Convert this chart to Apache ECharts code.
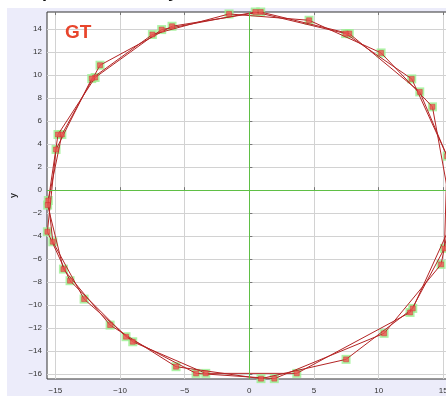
<!DOCTYPE html>
<html>
<head>
<meta charset="utf-8">
<script src="https://cdn.jsdelivr.net/npm/echarts@6/dist/echarts.min.js"></script>
<style>
  html, body { margin: 0; padding: 0; background: #fff; }
  #chart { width: 446px; height: 398px; }
</style>
</head>
<body>
<div id="chart"></div>
<script>
// Three passes around the ring, each a list of [x, y] samples in travel order
const loop1 = [
  [15.8, 1.6], [13.18, 8.55], [7.73, 13.62], [0.88, 15.5], [-5.98, 14.26],
  [-11.55, 10.87], [-14.5, 4.84], [-15.55, -0.9], [-15.2, -4.49], [-12.78, -9.48],
  [-9.02, -13.19], [-3.37, -15.94], [3.67, -15.94], [12.43, -10.64], [15.09, -5.07]
];
const loop2 = [
  [15.3, 2.95], [12.56, 9.68], [7.45, 13.62], [0.46, 15.5], [-6.78, 13.97],
  [-11.93, 9.8], [-14.8, 4.84], [-15.6, -1.3], [-14.38, -6.87], [-10.77, -11.74],
  [-5.67, -15.36], [0.9, -16.4], [7.48, -14.72], [12.64, -10.29], [15.75, -2.6]
];
const loop3 = [
  [14.16, 7.25], [10.19, 11.94], [4.62, 14.78], [-1.57, 15.33], [-7.5, 13.54],
  [-12.19, 9.71], [-14.95, 3.54], [-15.62, -3.62], [-13.87, -7.88], [-9.54, -12.75],
  [-4.12, -15.94], [1.93, -16.4], [10.42, -12.46], [14.83, -6.46], [15.9, -0.4]
];

const xTicks = [-15, -10, -5, 0, 5, 10, 15];
const yTicks = [-16, -14, -12, -10, -8, -6, -4, -2, 0, 2, 4, 6, 8, 10, 12, 14];

const chartTitle = 'predicted x vs y';
const panelLabel = 'GT';

const path = loop1.concat(loop2, loop3);
const withMinus = v => String(v).replace('-', '\u2212');

const labelFont = { color: '#333', fontSize: 8, fontFamily: 'Liberation Sans' };

const chart = echarts.init(document.getElementById('chart'), null, { renderer: 'canvas' });

chart.setOption({
  animation: false,
  backgroundColor: '#ececfa',
  graphic: [
    { type: 'rect', silent: true, shape: { x: 0, y: 0, width: 446, height: 8 }, style: { fill: '#fff' } },
    { type: 'rect', silent: true, shape: { x: 0, y: 0, width: 7, height: 398 }, style: { fill: '#fff' } },
    { type: 'rect', silent: true, shape: { x: 0, y: 396, width: 446, height: 2 }, style: { fill: '#fff' } },
    {
      type: 'text', silent: true, x: 42, y: 1.5,
      style: { text: chartTitle, font: 'bold 18px "Liberation Sans"', fill: '#111', verticalAlign: 'bottom' }
    },
    {
      type: 'text', silent: true, x: 65, y: 33, z: 100,
      style: { text: panelLabel, font: 'bold 19px "Liberation Sans"', fill: '#e8452c', verticalAlign: 'middle' }
    }
  ],
  grid: {
    left: 47, top: 12, width: 414, height: 367,
    outerBoundsMode: 'none', containLabel: false,
    show: true, backgroundColor: '#fff', borderColor: '#333', borderWidth: 1
  },
  xAxis: [{
    type: 'value', min: -15.65, max: 16.37,
    name: 'x', nameLocation: 'middle', nameGap: 22,
    nameTextStyle: { fontWeight: 'bold', fontSize: 9, color: '#222', fontFamily: 'Liberation Sans' },
    axisLine: { show: false },
    axisTick: { show: true, inside: true, length: 3, lineStyle: { color: '#777' }, customValues: xTicks },
    axisLabel: Object.assign({ customValues: xTicks, formatter: withMinus, margin: 8 }, labelFont),
    splitLine: { show: true, lineStyle: { color: '#d2d2d2', width: 1 } }
  }, {
    type: 'value', position: 'top', min: -15.65, max: 16.37,
    axisLine: { show: false },
    axisTick: { show: true, inside: true, length: 3, lineStyle: { color: '#777' }, customValues: xTicks },
    axisLabel: { show: false },
    splitLine: { show: false }
  }],
  yAxis: {
    type: 'value', min: -16.43, max: 15.5,
    name: 'y', nameLocation: 'middle', nameRotate: 90, nameGap: 27,
    nameTextStyle: { fontWeight: 'bold', fontSize: 9, color: '#222', fontFamily: 'Liberation Sans' },
    axisLine: { show: false },
    axisTick: { show: true, inside: true, length: 3, lineStyle: { color: '#777' }, customValues: yTicks },
    axisLabel: Object.assign({ customValues: yTicks, formatter: withMinus, margin: 5 }, labelFont),
    splitLine: { show: true, lineStyle: { color: '#d2d2d2', width: 1 } }
  },
  series: [
    {
      type: 'scatter', name: 'halo', data: path, z: 2,
      symbol: 'rect', symbolSize: 9,
      itemStyle: { color: '#98f08e' },
      markLine: {
        silent: true, symbol: 'none', label: { show: false },
        lineStyle: { color: '#5fbf45', type: 'solid', width: 1 },
        data: [{ xAxis: 0 }, { yAxis: 0 }]
      }
    },
    {
      type: 'line', name: 'path', data: path, z: 3,
      showSymbol: false,
      lineStyle: { color: '#b32424', width: 1 }
    },
    {
      type: 'scatter', name: 'points', data: path, z: 4,
      symbol: 'rect', symbolSize: 5,
      itemStyle: { color: '#f05454', borderColor: '#cc2a2a', borderWidth: 0.5 }
    }
  ]
});
</script>
</body>
</html>
